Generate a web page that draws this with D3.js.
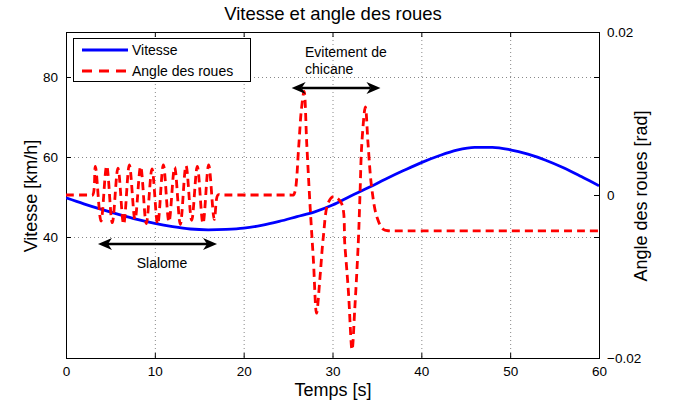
<!DOCTYPE html>
<html><head><meta charset="utf-8">
<script src="https://cdn.jsdelivr.net/npm/d3@7"></script>
<style>
body{margin:0;background:#fff;}
svg{display:block;font-family:"Liberation Sans",Arial,Helvetica,sans-serif;}
</style></head>
<body><svg id="chart" width="673" height="412"></svg>
<script>
// ---- data ----
const timeVitesse = [0,2,4,6,8,10,12,14,16,18,20,22,24,26,28,30,32,34,36,38,40,42,44,46,48,50,52,54,56,58,60];
const vitesse = [49.8,48.3,46.9,45.6,44.4,43.4,42.6,42.0,41.8,41.9,42.2,42.9,43.9,45.1,46.3,48.0,50.2,52.3,54.5,56.6,58.6,60.3,61.7,62.4,62.4,61.8,60.7,59.2,57.3,55.1,52.8];

const timeAngle = [0,2.6,3.0,3.30,3.94,4.58,5.21,5.85,6.49,7.13,7.77,8.40,9.04,9.68,10.32,10.96,11.59,12.23,12.87,13.51,14.15,14.78,15.42,16.06,16.70,17.1,17.5,25.2,25.6,25.8,26.2,26.5,26.8,27.1,27.5,27.85,28.2,28.6,28.97,29.5,30.1,31.0,31.4,31.8,32.2,32.5,32.9,33.1,33.3,33.7,34.0,34.4,35.0,35.7,36.4,37.0,60];
const angle = [0,0,0,0.0035,-0.0032,0.0036,-0.0034,0.0033,-0.0036,0.0037,-0.0030,0.0035,-0.0035,0.0032,-0.0036,0.0037,-0.0033,0.0034,-0.0036,0.0036,-0.0031,0.0035,-0.0035,0.0037,-0.0030,0,0,0,0,0.0005,0.0060,0.0105,0.0127,0.0063,-0.0018,-0.0080,-0.0145,-0.0100,-0.0051,-0.0010,-0.0002,-0.0010,-0.0063,-0.0120,-0.0190,-0.0141,-0.0059,0.0002,0.0063,0.0108,0.0063,0.0010,-0.0027,-0.0042,-0.0044,-0.0044,-0.0044];

const xTicks = [0,10,20,30,40,50,60];
const leftTicks = [40,60,80];
const rightTicks = [-0.02,0,0.02];
const rightTickLabels = ["\u22120.02","0","0.02"];
const legendLabels = ["Vitesse","Angle des roues"];

// ---- layout ----
const L=66, R=599, T=32, B=358;
const svg = d3.select("#chart");
const x = d3.scaleLinear().domain([0,60]).range([L,R]);
const yL = d3.scaleLinear().domain([9.75,91.25]).range([B,T]);
const yR = d3.scaleLinear().domain([-0.02,0.02]).range([B,T]);

// grid
const grid = svg.append("g").attr("stroke","#888").attr("stroke-width",1).attr("stroke-dasharray","1,3");
grid.selectAll("line.v").data(xTicks.slice(1,-1)).enter().append("line")
  .attr("x1",d=>x(d)+0.5).attr("x2",d=>x(d)+0.5).attr("y1",T).attr("y2",B);
grid.selectAll("line.h").data(leftTicks).enter().append("line")
  .attr("y1",d=>Math.round(yL(d))+0.5).attr("y2",d=>Math.round(yL(d))+0.5).attr("x1",L).attr("x2",R);

// axes
const fs = "13.5px";
const ax = svg.append("g").attr("transform",`translate(0,${B})`)
  .call(d3.axisBottom(x).tickValues(xTicks).tickSizeInner(-5).tickSizeOuter(0).tickPadding(8));
const axTop = svg.append("g").attr("transform",`translate(0,${T})`)
  .call(d3.axisTop(x).tickValues(xTicks).tickSizeInner(-5).tickSizeOuter(0).tickFormat(""));
const ayL = svg.append("g").attr("transform",`translate(${L},0)`)
  .call(d3.axisLeft(yL).tickValues(leftTicks).tickSizeInner(-5).tickSizeOuter(0).tickPadding(8));
const ayL2 = svg.append("g").attr("transform",`translate(${R},0)`)
  .call(d3.axisRight(yL).tickValues(leftTicks).tickSizeInner(-5).tickSizeOuter(0).tickFormat(""));
const ayR = svg.append("g").attr("transform",`translate(${R},0)`)
  .call(d3.axisRight(yR).tickValues(rightTicks).tickSizeInner(-5).tickSizeOuter(0).tickPadding(8)
     .tickFormat((d,i)=>rightTickLabels[i]));
[ax,axTop,ayL,ayL2,ayR].forEach(g=>{
  g.select(".domain").remove();
  g.selectAll("text").attr("font-size",fs).attr("font-family","Liberation Sans, Arial, sans-serif").attr("fill","#000");
  g.selectAll("line").attr("stroke","#000");
});

// frame
svg.append("rect").attr("x",L+0.5).attr("y",T+0.5).attr("width",R-L).attr("height",B-T)
  .attr("fill","none").attr("stroke","#000").attr("stroke-width",1);

// lines
svg.append("clipPath").attr("id","clp").append("rect").attr("x",L).attr("y",T).attr("width",R-L).attr("height",B-T);
const lineV = d3.line().x((d,i)=>x(timeVitesse[i])).y(d=>yL(d)).curve(d3.curveMonotoneX);
const lineA = d3.line().x((d,i)=>x(timeAngle[i])).y(d=>yR(d)).curve(d3.curveCatmullRom.alpha(0.5));
svg.append("path").attr("d",lineV(vitesse)).attr("fill","none").attr("stroke","#0000ff").attr("stroke-width",2.8).attr("clip-path","url(#clp)");
svg.append("path").attr("d",lineA(angle)).attr("fill","none").attr("stroke","#ff0000").attr("stroke-width",2.8)
  .attr("stroke-dasharray","8,5").attr("clip-path","url(#clp)");

// annotations: arrows
function dblArrow(x1,x2,y){
  const g = svg.append("g");
  const hl=14, hw=6, notch=4;
  g.append("line").attr("x1",x1+hl-notch).attr("x2",x2-hl+notch).attr("y1",y).attr("y2",y).attr("stroke","#000").attr("stroke-width",2.5);
  g.append("path").attr("d",`M${x1},${y} L${x1+hl},${y-hw} L${x1+hl-notch},${y} L${x1+hl},${y+hw} Z`).attr("fill","#000");
  g.append("path").attr("d",`M${x2},${y} L${x2-hl},${y-hw} L${x2-hl+notch},${y} L${x2-hl},${y+hw} Z`).attr("fill","#000");
}
dblArrow(x(3.6), x(17.0), 244);
dblArrow(x(25.4), x(35.4), 88);
svg.append("text").attr("x",162).attr("y",268).attr("text-anchor","middle").attr("font-size","14px").text("Slalome");
svg.append("text").attr("x",305).attr("y",57).attr("font-size","14px").text("Evitement de");
svg.append("text").attr("x",305).attr("y",74).attr("font-size","14px").text("chicane");

// legend
const lg = svg.append("g");
lg.append("rect").attr("x",73.5).attr("y",38.5).attr("width",177).attr("height",43).attr("fill","#fff").attr("stroke","#000").attr("stroke-width",1);
lg.append("line").attr("x1",82).attr("x2",128).attr("y1",50).attr("y2",50).attr("stroke","#0000ff").attr("stroke-width",2.8);
lg.append("line").attr("x1",82).attr("x2",128).attr("y1",71).attr("y2",71).attr("stroke","#ff0000").attr("stroke-width",2.8).attr("stroke-dasharray","10,7");
lg.append("text").attr("x",132).attr("y",55).attr("font-size","14px").text(legendLabels[0]);
lg.append("text").attr("x",132).attr("y",76).attr("font-size","14px").text(legendLabels[1]);

// titles
svg.append("text").attr("x",333).attr("y",20).attr("text-anchor","middle").attr("font-size","18.5px").text("Vitesse et angle des roues");
svg.append("text").attr("x",333).attr("y",396).attr("text-anchor","middle").attr("font-size","18px").text("Temps [s]");
svg.append("text").attr("transform","translate(37,196) rotate(-90)").attr("text-anchor","middle").attr("font-size","18px").text("Vitesse [km/h]");
svg.append("text").attr("transform","translate(647,196) rotate(-90)").attr("text-anchor","middle").attr("font-size","18px").text("Angle des roues [rad]");
</script></body></html>
